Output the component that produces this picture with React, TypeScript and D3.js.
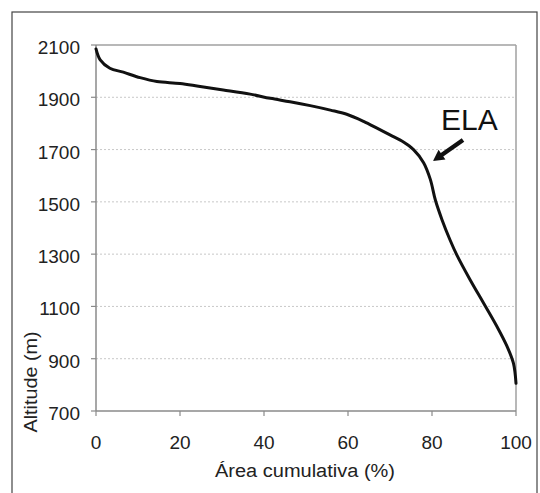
import React from "react";
import * as d3 from "d3";

const areaPct = [0, 1, 3.3, 6.5, 10.5, 14.5, 20, 24.8, 30.3, 36.7, 41.5, 46.2, 51, 55.8, 59.7, 63.7, 66.9, 70, 73.2, 75.6, 78, 79.6, 80.8, 82.4, 84.3, 85.9, 89.1, 92.3, 95.5, 97.9, 99.4, 100];
const altitude = [2085, 2043, 2011, 1996, 1975, 1960, 1953, 1941, 1928, 1912, 1896, 1883, 1868, 1851, 1835, 1808, 1782, 1756, 1729, 1700, 1650, 1586, 1507, 1431, 1354, 1297, 1201, 1112, 1022, 946, 882, 806];
const yTicks = [700, 900, 1100, 1300, 1500, 1700, 1900, 2100];
const xTicks = [0, 20, 40, 60, 80, 100];
const xTitle = "Área cumulativa (%)";
const yTitle = "Altitude (m)";
const annotation = "ELA";

const W = 540, H = 493;
const L = 96, R = 516, T = 45, B = 411;
const FONT = "'Liberation Sans', Arial, sans-serif";

export default function App() {
  const x = d3.scaleLinear().domain([0, 100]).range([L, R]);
  const y = d3.scaleLinear().domain([700, 2100]).range([B, T]);
  const pts = areaPct.map((p, i) => [p, altitude[i]] as [number, number]);
  const line = d3.line<[number, number]>().x(d => x(d[0])).y(d => y(d[1])).curve(d3.curveCatmullRom.alpha(0.5));

  // arrow geometry
  const ax0 = 463, ay0 = 140, ax1 = 433, ay1 = 161;
  const ang = Math.atan2(ay1 - ay0, ax1 - ax0);
  const headLen = 11, headW = 6, shaftW = 2.2;
  const bx = ax1 - headLen * Math.cos(ang), by = ay1 - headLen * Math.sin(ang);
  const nx = -Math.sin(ang), ny = Math.cos(ang);
  const arrowPts = [
    [ax0 + nx * shaftW, ay0 + ny * shaftW],
    [bx + nx * shaftW, by + ny * shaftW],
    [bx + nx * headW, by + ny * headW],
    [ax1, ay1],
    [bx - nx * headW, by - ny * headW],
    [bx - nx * shaftW, by - ny * shaftW],
    [ax0 - nx * shaftW, ay0 - ny * shaftW],
  ].map(p => p.join(",")).join(" ");

  return (
    <svg width={W} height={H} style={{ position: "absolute", left: 0, top: 0, background: "#fff" }} fontFamily={FONT}>
      <rect x={12} y={12} width={525} height={500} fill="#fff" stroke="#444" strokeWidth={1.2} />
      {yTicks.filter(t => t !== 700 && t !== 2100).map(t => (
        <line key={"g" + t} x1={L} x2={R} y1={y(t)} y2={y(t)} stroke="#c8c8c8" strokeWidth={1} strokeDasharray="2,2" />
      ))}
      {/* plot frame */}
      <line x1={L} x2={R} y1={T} y2={T} stroke="#a0a0a0" strokeWidth={1.5} />
      <line x1={R} x2={R} y1={T} y2={B} stroke="#a0a0a0" strokeWidth={1.5} />
      <line x1={L} x2={L} y1={T} y2={B} stroke="#8a8a8a" strokeWidth={1.5} />
      <line x1={L} x2={R} y1={B} y2={B} stroke="#8a8a8a" strokeWidth={1.5} />
      {yTicks.map(t => (
        <g key={"y" + t}>
          <line x1={L - 5} x2={L} y1={y(t)} y2={y(t)} stroke="#8a8a8a" strokeWidth={1.2} />
          <text x={80} y={y(t) + 9} textAnchor="end" fontSize={19} fill="#222">{t}</text>
        </g>
      ))}
      {xTicks.map(t => (
        <g key={"x" + t}>
          <line x1={x(t)} x2={x(t)} y1={B} y2={B + 5} stroke="#8a8a8a" strokeWidth={1.2} />
          <text x={x(t)} y={449} textAnchor="middle" fontSize={19} fill="#222">{t}</text>
        </g>
      ))}
      <text x={305} y={477} textAnchor="middle" fontSize={18} fill="#222" textLength={180} lengthAdjust="spacingAndGlyphs">{xTitle}</text>
      <text transform={`translate(37,382) rotate(-90)`} textAnchor="middle" fontSize={19} fill="#222" textLength={101} lengthAdjust="spacingAndGlyphs">{yTitle}</text>
      <path d={line(pts) || ""} fill="none" stroke="#111" strokeWidth={3} strokeLinejoin="round" strokeLinecap="round" />
      <text x={441} y={130} fontSize={30} fill="#111">{annotation}</text>
      <polygon points={arrowPts} fill="#111" />
    </svg>
  );
}
